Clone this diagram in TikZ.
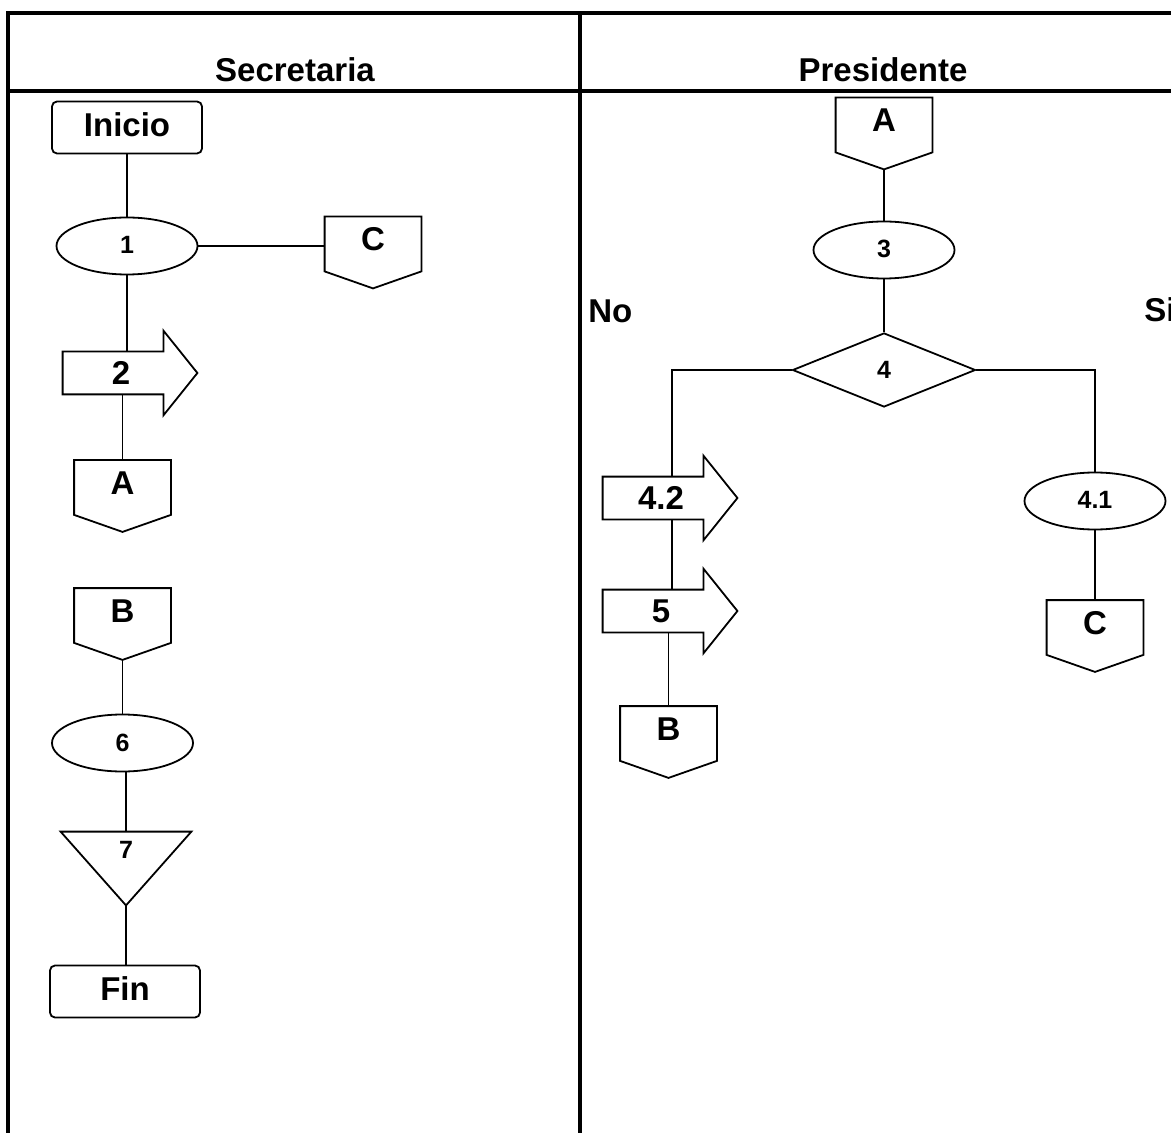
\documentclass[tikz,border=0pt]{standalone}
\usepackage{fontspec}
\setmainfont{Liberation Sans}
\usetikzlibrary{shapes.geometric,calc}
\newcommand{\offpg}[4]{%
  \node[opbox] (#1) at (#2,#3) {#4};
  \draw[ln] (#1.south west) -- (#1.north west) -- (#1.north east) -- (#1.south east)
    -- ($(#1.south)+(0,17)$) coordinate (#1-tip) -- cycle;}
\newcommand{\arrowbody}[5]{%
  \node[arbody] (#1) at (#2,#3) {};
  \draw[ln] (#1.south west) -- (#1.north west) -- (#1.north east) -- ++(0,-21)
    -- ($(#1.east)+(34,0)$) -- ($(#1.south east)+(0,21)$) -- (#1.south east) -- cycle;
  \node[big, inner sep=0pt] at ($(#1.center)+(#5,0)$) {#4};}
\begin{document}
\begin{tikzpicture}[x=0.5pt,y=-0.5pt,
  big/.style={font=\fontsize{16.5}{18}\selectfont\bfseries},
  small/.style={font=\fontsize{12.5}{14}\selectfont\bfseries},
  frameline/.style={line width=1.6pt},
  ln/.style={line width=0.9pt},
  termbox/.style={draw, ln, rounded corners=2.5pt, minimum width=75pt, minimum height=26pt,
    inner sep=0pt, big, text height=11.8pt, text depth=3pt},
  oval/.style={draw, ln, ellipse, minimum width=70.5pt, minimum height=28.5pt,
    inner sep=0pt, small, text height=9pt, text depth=1pt},
  decision/.style={draw, ln, diamond, minimum width=91.5pt, minimum height=37pt,
    inner sep=0pt, small, text height=9pt, text depth=0pt},
  opbox/.style={minimum width=48pt, minimum height=27pt, inner sep=0pt, big,
    text height=11.8pt, text depth=5pt},
  arbody/.style={minimum width=50pt, minimum height=21pt, inner sep=0pt},
  tribox/.style={minimum width=65pt, minimum height=36.5pt, inner sep=0pt},
  head/.style={big, inner sep=0pt, anchor=base},
]
\useasboundingbox (0,0) rectangle (1171,1133);
\clip (0,0) rectangle (1171,1133);

% frame
\draw[frameline] (8,1140) -- (8,13) -- (1180,13);
\draw[frameline] (8,91) -- (1180,91);
\draw[frameline] (580,13) -- (580,1140);
\node[head] (hsec) at (295,82) {Secretaria};
\node[head] (hpre) at (883,82) {Presidente};
\node[head, anchor=base west] (lno) at (588,323) {No};
\node[head, anchor=base west] (lsi) at (1144,322) {Si};

% Secretaria lane
\node[termbox] (ini) at (127,127.5) {Inicio};
\node[oval] (e1) at (127,246) {1};
\offpg{c1}{373}{244}{C}
\arrowbody{a2}{113}{373}{2}{8}
\offpg{a1}{122.5}{487.5}{A}
\offpg{b1}{122.5}{615.5}{B}
\node[oval] (e6) at (122.5,743) {6};
\node[tribox] (t7) at (126,868.5) {};
\draw[ln] (t7.north west) -- (t7.north east) -- (t7.south) -- cycle;
\node[small, inner sep=0pt] (l7) at (126,850) {7};
\node[termbox] (fin) at (125,991.5) {Fin};

\draw[ln] (ini.south) -- (ini.south |- e1.north);
\draw[ln] (e1.east) -- (e1.east -| c1.west);
\draw[ln] (e1.south) -- (e1.south |- a2.north);
\draw[ln] (a1.north |- a2.south) -- (a1.north);
\draw[ln] (b1-tip) -- (e6.north);
\draw[ln] (t7.north |- e6.south) -- (t7.north);
\draw[ln] (t7.south) -- (t7.south |- fin.north);

% Presidente lane
\offpg{a3}{884}{125}{A}
\node[oval] (e3) at (884,250) {3};
\node[decision] (d4) at (884,370) {4};
\arrowbody{a42}{653}{498}{4.2}{8}
\arrowbody{a5}{653}{611}{5}{8}
\offpg{b2}{668.5}{733.5}{B}
\node[oval] (e41) at (1095,501) {4.1};
\offpg{c2}{1095}{627.5}{C}

\draw[ln] (a3-tip) -- (e3.north);
\draw[ln] (e3.south) -- (d4.north);
\draw[ln] (d4.west) -| ($(a42.north)+(19,0)$);
\draw[ln] ($(a42.south)+(19,0)$) -- ($(a5.north)+(19,0)$);
\draw[ln] (b2.north |- a5.south) -- (b2.north);
\draw[ln] (d4.east) -| (e41.north);
\draw[ln] (e41.south) -- (c2.north);
\end{tikzpicture}
\end{document}
